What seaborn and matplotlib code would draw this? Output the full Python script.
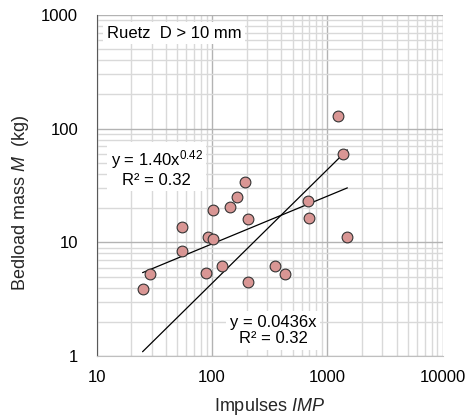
#!/usr/bin/env python3

import numpy as np
import pandas
import matplotlib
import matplotlib.pyplot as plt
import seaborn as sns
from matplotlib.ticker import LogLocator, NullFormatter, FixedFormatter, FixedLocator

matplotlib.use("Agg")

# Data
impulses = [25, 29, 55, 55, 89, 92, 101, 101, 123, 143, 165, 193, 204, 207,
            353, 430, 676, 690, 1245, 1377, 1491]
mass_kg = [3.9, 5.3, 13.7, 8.4, 5.4, 11.2, 10.8, 19.2, 6.2, 20.6, 25.2, 33.7,
           15.9, 4.5, 6.2, 5.3, 23.1, 16.5, 129, 59.8, 11.2]

# trend lines as printed on the chart
power_coef, power_exp = 1.40, 0.42
linear_coef = 0.0436
r2_power = 0.32
r2_linear = 0.32

x_ticks = [10, 100, 1000, 10000]
y_ticks = [1, 10, 100, 1000]

sns.set_style("white")
plt.rcParams["font.family"] = ["Liberation Sans", "DejaVu Sans"]
plt.rcParams["mathtext.fontset"] = "custom"
plt.rcParams["mathtext.rm"] = "Liberation Sans"
plt.rcParams["mathtext.it"] = "Liberation Sans:italic"
plt.rcParams["text.color"] = "black"

df = pandas.DataFrame({"imp": impulses, "mass": mass_kg})

fig = plt.figure(figsize=(4.73, 4.19), dpi=100)
ax = fig.add_axes([0.2044, 0.1504, 0.7315, 0.8138])

ax.set_xscale("log")
ax.set_yscale("log")
ax.set_xlim(10, 10000)
ax.set_ylim(1, 1000)

ax.xaxis.set_major_locator(FixedLocator(x_ticks))
ax.xaxis.set_major_formatter(FixedFormatter([str(v) for v in x_ticks]))
ax.yaxis.set_major_locator(FixedLocator(y_ticks))
ax.yaxis.set_major_formatter(FixedFormatter([str(v) for v in y_ticks]))
ax.xaxis.set_minor_locator(LogLocator(base=10, subs=np.arange(2, 10)))
ax.yaxis.set_minor_locator(LogLocator(base=10, subs=np.arange(2, 10)))
ax.xaxis.set_minor_formatter(NullFormatter())
ax.yaxis.set_minor_formatter(NullFormatter())

ax.grid(which="major", color="#b3b3b3", linewidth=1.0, zorder=0)
ax.grid(which="minor", color="#d9d9d9", linewidth=1.0, zorder=0)
ax.set_axisbelow(True)

for side in ["top", "right"]:
    ax.spines[side].set_visible(False)
ax.spines["left"].set_color("#595959")
ax.spines["bottom"].set_color("#bfbfbf")
ax.tick_params(which="major", length=4.3, color="#8c8c8c", labelsize=12,
               labelcolor="black")
ax.tick_params(axis="x", pad=6)
ax.tick_params(axis="y", pad=9)
ax.tick_params(which="minor", length=0)

# trend lines across the data range
xs = np.linspace(min(impulses), max(impulses), 200)
ax.plot(xs, power_coef * xs ** power_exp, color="black", linewidth=0.9, zorder=2)
ax.plot(xs, linear_coef * xs, color="black", linewidth=0.9, zorder=2)

sns.scatterplot(data=df, x="imp", y="mass", ax=ax, s=60, color="#d99694",
                edgecolor="#333333", linewidth=0.8, zorder=3, legend=False)

ax.set_xlabel("Impulses $\\mathit{IMP}$", fontsize=13, labelpad=8, color="#262626")
ax.set_ylabel("Bedload mass $\\mathit{M}$  (kg)", fontsize=13, color="#262626")
ax.yaxis.set_label_coords(-0.19, 0.45)

box = dict(facecolor="white", edgecolor="none", pad=2.5)
ax.text(0.029, 0.947, "Ruetz  D > 10 mm", transform=ax.transAxes, fontsize=12,
        va="center", ha="left", bbox=box, zorder=4)
ax.text(0.174, 0.551,
        "y = %.2fx$^{%.2f}$\nR² = %.2f" % (power_coef, power_exp, r2_power),
        transform=ax.transAxes, fontsize=12, va="center", ha="center",
        linespacing=1.1, bbox=box, zorder=4)
ax.text(0.51, 0.075,
        "y = %.4fx\nR² = %.2f" % (linear_coef, r2_linear),
        transform=ax.transAxes, fontsize=12, va="center", ha="center",
        linespacing=1.1, bbox=box, zorder=4)

fig.savefig("out.png", dpi=100)
